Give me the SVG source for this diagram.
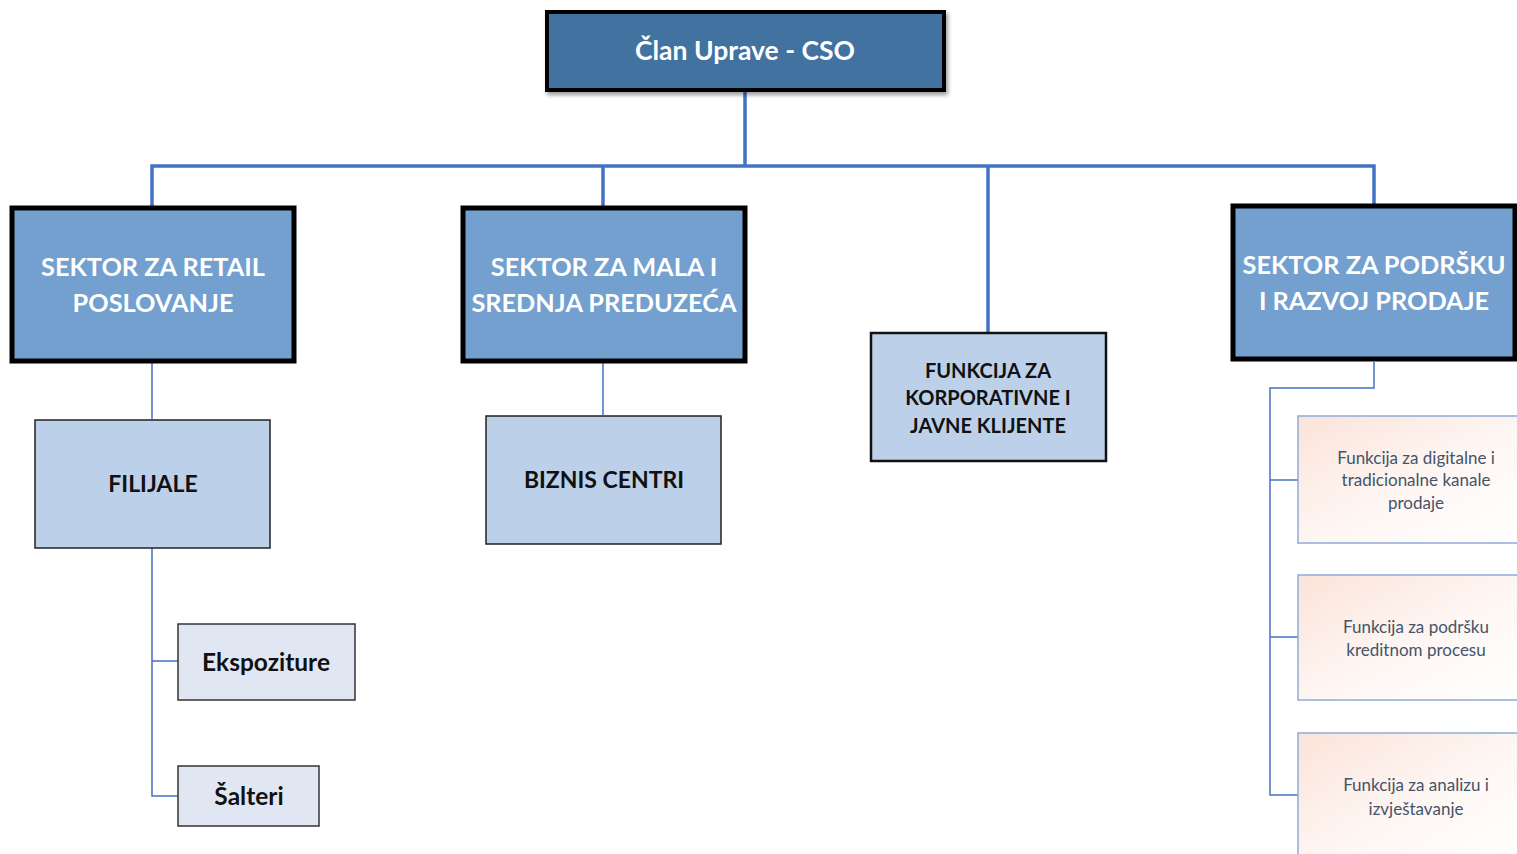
<svg xmlns="http://www.w3.org/2000/svg" width="1517" height="854" viewBox="0 0 1517 854">
<defs>
<linearGradient id="peach" x1="0" y1="0" x2="1" y2="1">
<stop offset="0" stop-color="#fbe3d9"/>
<stop offset="0.55" stop-color="#fef7f4"/>
<stop offset="1" stop-color="#ffffff"/>
</linearGradient>
<filter id="sh" x="-5%" y="-10%" width="115%" height="130%">
<feGaussianBlur in="SourceAlpha" stdDeviation="2"/>
<feOffset dx="2" dy="3"/>
<feComponentTransfer><feFuncA type="linear" slope="0.4"/></feComponentTransfer>
<feMerge><feMergeNode/><feMergeNode in="SourceGraphic"/></feMerge>
</filter>
</defs>
<style>
text{font-family:Lato,"Open Sans","Liberation Sans",sans-serif;text-anchor:middle;dominant-baseline:central}
.top{fill:#43729f;stroke:#000;stroke-width:4}
.sec{fill:#73a0cf;stroke:#000;stroke-width:5}
.sub{fill:#bcd0e9;stroke:#222;stroke-width:1.5}
.kor{fill:#bcd0e9;stroke:#111;stroke-width:2.5}
.lt{fill:#e0e7f3;stroke:#333;stroke-width:1.5}
.fn{fill:url(#peach);stroke:#8eaadb;stroke-width:1.5}
.wt{fill:#fff;font-weight:bold}
.bk{fill:#111;font-weight:bold}
.ft{fill:#44546a;font-size:17px}
.c1{stroke:#4472c4;stroke-width:3.5;fill:none}
.c2{stroke:#4472c4;stroke-width:1.5;fill:none}
</style>
<g id="connectors">
<path class="c1" d="M745 92V166M152 207V166H1374V204M603 166V207M988 166V333"/>
<path class="c2" d="M152 362V419M152 548V796H178M152 661H178M603 362V415M1374 362V388H1270V795H1298M1270 480H1298M1270 637H1298"/>
</g>
<g id="n-cso">
<rect class="top" x="547" y="12" width="397" height="78" filter="url(#sh)"/>
<text class="wt" x="745" y="50" font-size="26.5">Član Uprave - CSO</text>
</g>
<g id="n-retail">
<rect class="sec" x="12" y="208" width="282" height="153"/>
<text class="wt" x="153" y="266" font-size="25.3">SEKTOR ZA RETAIL</text>
<text class="wt" x="153" y="302" font-size="25.3">POSLOVANJE</text>
</g>
<g id="n-mala">
<rect class="sec" x="463" y="208" width="282" height="153"/>
<text class="wt" x="604" y="266" font-size="25.3">SEKTOR ZA MALA I</text>
<text class="wt" x="604" y="302" font-size="25.3">SREDNJA PREDUZEĆA</text>
</g>
<g id="n-korp">
<rect class="kor" x="871" y="333" width="235" height="128"/>
<text class="bk" x="988" y="370" font-size="20">FUNKCIJA ZA</text>
<text class="bk" x="988" y="397" font-size="20">KORPORATIVNE I</text>
<text class="bk" x="988" y="425" font-size="20">JAVNE KLIJENTE</text>
</g>
<g id="n-podrska">
<rect class="sec" x="1233" y="206" width="282" height="153"/>
<text class="wt" x="1374" y="264" font-size="25.3">SEKTOR ZA PODRŠKU</text>
<text class="wt" x="1374" y="300" font-size="25.3">I RAZVOJ PRODAJE</text>
</g>
<g id="n-filijale">
<rect class="sub" x="35" y="420" width="235" height="128"/>
<text class="bk" x="153" y="483" font-size="23">FILIJALE</text>
</g>
<g id="n-biznis">
<rect class="sub" x="486" y="416" width="235" height="128"/>
<text class="bk" x="604" y="479" font-size="23">BIZNIS CENTRI</text>
</g>
<g id="n-ekspoziture">
<rect class="lt" x="178" y="624" width="177" height="76"/>
<text class="bk" x="266" y="661" font-size="24.5">Ekspoziture</text>
</g>
<g id="n-salteri">
<rect class="lt" x="178" y="766" width="141" height="60"/>
<text class="bk" x="249" y="795" font-size="24.5">Šalteri</text>
</g>
<g id="n-digital">
<rect class="fn" x="1298" y="416" width="225" height="127"/>
<text class="ft" x="1416" y="457">Funkcija za digitalne i</text>
<text class="ft" x="1416" y="479">tradicionalne kanale</text>
<text class="ft" x="1416" y="502">prodaje</text>
</g>
<g id="n-kredit">
<rect class="fn" x="1298" y="575" width="225" height="125"/>
<text class="ft" x="1416" y="626">Funkcija za podršku</text>
<text class="ft" x="1416" y="649">kreditnom procesu</text>
</g>
<g id="n-analiza">
<rect class="fn" x="1298" y="733" width="225" height="130"/>
<text class="ft" x="1416" y="784">Funkcija za analizu i</text>
<text class="ft" x="1416" y="808">izvještavanje</text>
</g>
</svg>
